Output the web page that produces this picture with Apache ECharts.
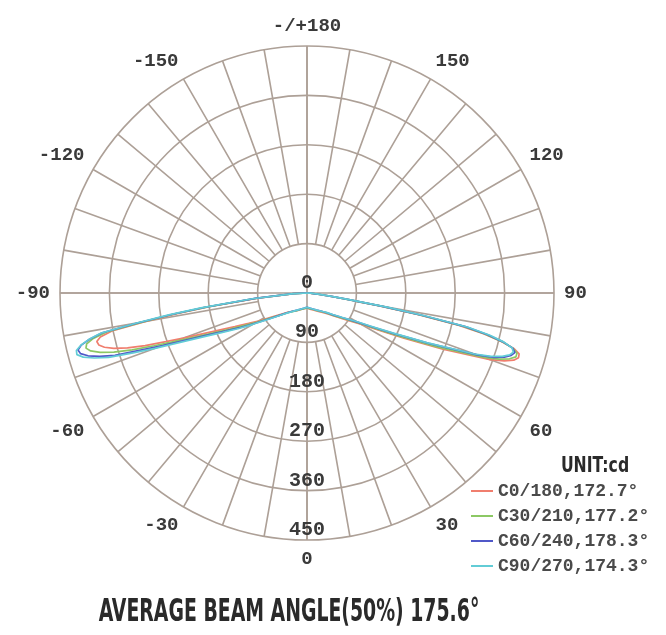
<!DOCTYPE html>
<html><head><meta charset="utf-8">
<script src="https://cdn.jsdelivr.net/npm/echarts@6/dist/echarts.min.js"></script>
<style>html,body{margin:0;padding:0;background:#fff}#c{width:666px;height:635px}</style>
</head><body><div id="c"></div>
<script>
// gamma angles (deg from nadir), same grid for every half-plane
const gamma = [0,10,20,30,40,45,50,55,60,62.5,65,67.5,70,71,72,73,74,75,76,77,78,79,80,81,82,84,87,90];
// intensities (cd)
const c0Right  = [28,30,33,38,47,54,66,84,115,146,195,268,355,380,396,403,402,390,365,330,282,205,130,70,42,17,6,0];
const c0Left   = [27,29,32,37,44,50,60,75,102,120,145,180,240,272,310,342,366,382,391,393,385,362,300,240,180,90,23,0];
const c30Right = [27,29,32,37,45,52,64,81,110,140,186,255,343,370,388,398,398,388,366,334,290,210,135,72,43,18,6,0];
const c30Left  = [27,29,32,37,45,51,62,78,108,128,155,195,262,295,335,368,392,408,415,412,398,372,305,245,185,92,24,0];
const c60Right = [26,28,31,36,44,51,62,78,106,133,175,240,330,360,378,389,394,388,368,338,295,215,140,75,45,18,6,0];
const c60Left  = [26,28,31,36,44,51,62,80,112,135,163,205,280,318,368,395,415,427,430,422,405,380,310,250,190,95,25,0];
const c90Right = [26,28,31,36,44,50,61,77,104,130,172,236,325,355,374,386,391,387,370,342,300,222,148,80,48,20,7,0];
const c90Left  = [26,28,31,36,45,52,63,82,115,140,170,215,295,335,380,405,424,434,433,423,406,382,315,255,195,100,28,0];

const seriesNames = ['C0/180,172.7°','C30/210,177.2°','C60/240,178.3°','C90/270,174.3°'];
const seriesColors = ['#f07e6e','#8cc864','#5058c8','#62ccd6'];
const rightData = [c0Right, c30Right, c60Right, c90Right];
const leftData = [c0Left, c30Left, c60Left, c90Left];

const angleTickValues = [0,30,60,90,120,150,180,210,240,270,300,330];
const angleTickLabels = ['0','30','60','90','120','150','-/+180','-150','-120','-90','-60','-30'];
const radiusMax = 450, radiusStep = 90;
const unitText = 'UNIT:cd';
const footText = 'AVERAGE BEAM ANGLE(50%) 175.6°';

function lobe(left, right) {
  const pts = [];
  for (let i = gamma.length - 1; i >= 0; i--) pts.push([left[i], 360 - gamma[i]]);
  for (let i = 0; i < gamma.length; i++) pts.push([right[i], gamma[i]]);
  return pts;
}

const gridColor = '#ada097';
const labelColor = '#3a3a3a';
const monoFont = "'Liberation Mono','DejaVu Sans Mono',monospace";
const cx = 307, cy = 293, R = 247, Rin = R * radiusStep / radiusMax;

const chart = echarts.init(document.getElementById('c'), null, {renderer: 'canvas'});
chart.setOption({
  animation: false,
  backgroundColor: '#fff',
  polar: [
    {center: [cx, cy], radius: [0, R]},
    {center: [cx, cy], radius: [Rin, R]}
  ],
  angleAxis: [
    {polarIndex: 0, type: 'value', min: 0, max: 360, interval: 90, startAngle: 270, clockwise: false,
     axisLine: {show: false}, axisTick: {show: false}, axisLabel: {show: false},
     splitLine: {show: true, lineStyle: {color: gridColor, width: 1.6}}},
    {polarIndex: 1, type: 'value', min: 0, max: 360, interval: 30, startAngle: 270, clockwise: false,
     axisLine: {show: false}, axisTick: {show: false},
     minorTick: {show: false, splitNumber: 3},
     minorSplitLine: {show: true, lineStyle: {color: gridColor, width: 1.6}},
     splitLine: {show: true, lineStyle: {color: gridColor, width: 1.6}},
     axisLabel: {show: true, margin: 10, color: labelColor, fontFamily: monoFont, fontWeight: 'bold', fontSize: 19,
       formatter: v => { const k = angleTickValues.indexOf(v); return k >= 0 ? angleTickLabels[k] : ''; }}}
  ],
  radiusAxis: [
    {polarIndex: 0, type: 'value', min: 0, max: radiusMax, interval: radiusStep,
     axisLine: {show: false}, axisTick: {show: false},
     splitLine: {show: true, lineStyle: {color: gridColor, width: 1.6}},
     axisLabel: {show: true, margin: 0, align: 'center', verticalAlign: 'bottom', color: labelColor,
       fontFamily: monoFont, fontWeight: 'bold', fontSize: 20}},
    {polarIndex: 1, type: 'value', min: 0, max: radiusMax, show: false}
  ],
  legend: {
    data: seriesNames, orient: 'vertical', left: 466, top: 477, itemWidth: 22, itemHeight: 2, itemGap: 7,
    icon: 'rect', textStyle: {fontFamily: monoFont, fontWeight: 'bold', fontSize: 18, color: '#4a4a4a'}
  },
  graphic: [
    {type: 'text', x: 595, y: 467, scaleX: 0.83, style: {text: unitText, textAlign: 'center', textVerticalAlign: 'middle',
      font: "bold 21px 'Liberation Sans Narrow','DejaVu Sans Condensed',sans-serif", fill: '#2a2a2a'}},
    {type: 'text', x: 289, y: 613, scaleX: 0.655, style: {text: footText, textAlign: 'center', textVerticalAlign: 'middle',
      font: "bold 32px 'Liberation Sans Narrow','DejaVu Sans Condensed',sans-serif", fill: '#2a2a2a'}}
  ],
  series: seriesNames.map((name, k) => ({
    name, type: 'line', coordinateSystem: 'polar', polarIndex: 0,
    showSymbol: false, symbol: 'none', smooth: false,
    lineStyle: {color: seriesColors[k], width: 1.7}, itemStyle: {color: seriesColors[k]},
    data: lobe(leftData[k], rightData[k])
  }))
});
</script></body></html>
